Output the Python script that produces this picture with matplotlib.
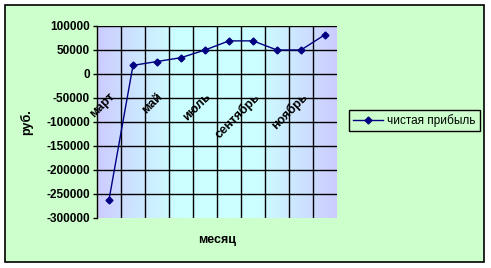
import matplotlib.pyplot as plt
import numpy as np
from matplotlib.colors import LinearSegmentedColormap
from matplotlib.patches import Rectangle

# data
months = ['март', 'апрель', 'май', 'июнь', 'июль', 'август',
          'сентябрь', 'октябрь', 'ноябрь', 'декабрь']
profit = [-262000, 18000, 26000, 34000, 50000, 69000, 69000, 50000, 50000, 82000]
y_ticks = [100000, 50000, 0, -50000, -100000, -150000, -200000, -250000, -300000]

plt.rcParams['font.family'] = ['Liberation Sans', 'DejaVu Sans']

fig = plt.figure(figsize=(4.91, 2.68), dpi=100, facecolor='white')
# chart area with border
fig.patches.append(Rectangle((5 / 491, 6 / 268), 479 / 491, 257 / 268,
                             transform=fig.transFigure, facecolor='#ccffcc',
                             edgecolor='black', linewidth=1.2, zorder=-10))

ax = fig.add_axes([97 / 491, 1 - 218 / 268, 240 / 491, 192 / 268])
ax.patch.set_alpha(0)

# gradient plot area
cmap = LinearSegmentedColormap.from_list('g', ['#ccccff', '#ccffff', '#ccffff', '#ccccff'])
grad = np.linspace(0, 1, 256).reshape(1, -1)
ax.imshow(grad, extent=[0, 1, 0, 1], transform=ax.transAxes, aspect='auto',
          cmap=cmap, zorder=0)

x = np.arange(len(months))
ax.plot(x, profit, color='#000080', marker='D', markersize=3.5, linewidth=1,
        label='чистая прибыль', zorder=3)

ax.set_xlim(-0.5, len(months) - 0.5)
ax.set_ylim(-300000, 100000)
ax.set_yticks(y_ticks)
ax.set_yticklabels([str(v) for v in y_ticks], fontweight='bold', fontsize=8.5)

# category labels on axis crossing at zero, every second shown
ax.spines['bottom'].set_position(('data', 0))
ax.set_xticks(x[::2])
ax.set_xticklabels(months[::2], rotation=45, ha='right', va='top',
                   fontweight='bold', fontsize=9, rotation_mode='anchor')
ax.tick_params(axis='x', length=0, pad=12)
ax.tick_params(axis='y', length=3, width=1, pad=2)

# grid lines
ax.set_xticks(x[:-1] + 0.5, minor=True)
ax.tick_params(axis='x', which='minor', length=0)
ax.grid(True, which='minor', axis='x', color='black', linewidth=1)
ax.grid(True, which='major', axis='y', color='black', linewidth=1)
ax.yaxis.get_gridlines()[-1].set_visible(False)  # no line at -300000
for s in ['top', 'right']:
    ax.spines[s].set_visible(False)
ax.spines['left'].set_linewidth(1)
ax.spines['bottom'].set_visible(False)

fig.text(27 / 491, 1 - 122 / 268, 'руб.', rotation=90, ha='center', va='center',
         fontweight='bold', fontsize=9)
fig.text(217 / 491, 1 - 240 / 268, 'месяц', ha='center', va='center',
         fontweight='bold', fontsize=9)

leg = ax.legend(loc='center', bbox_to_anchor=(414 / 491, 1 - 120.5 / 268),
                bbox_transform=fig.transFigure, fancybox=False, fontsize=8.5,
                facecolor='#ccffcc', edgecolor='black', framealpha=1,
                handlelength=2.6, borderpad=0.35, handletextpad=0.3)
leg.get_frame().set_linewidth(1)

fig.savefig('out.png', dpi=100)
